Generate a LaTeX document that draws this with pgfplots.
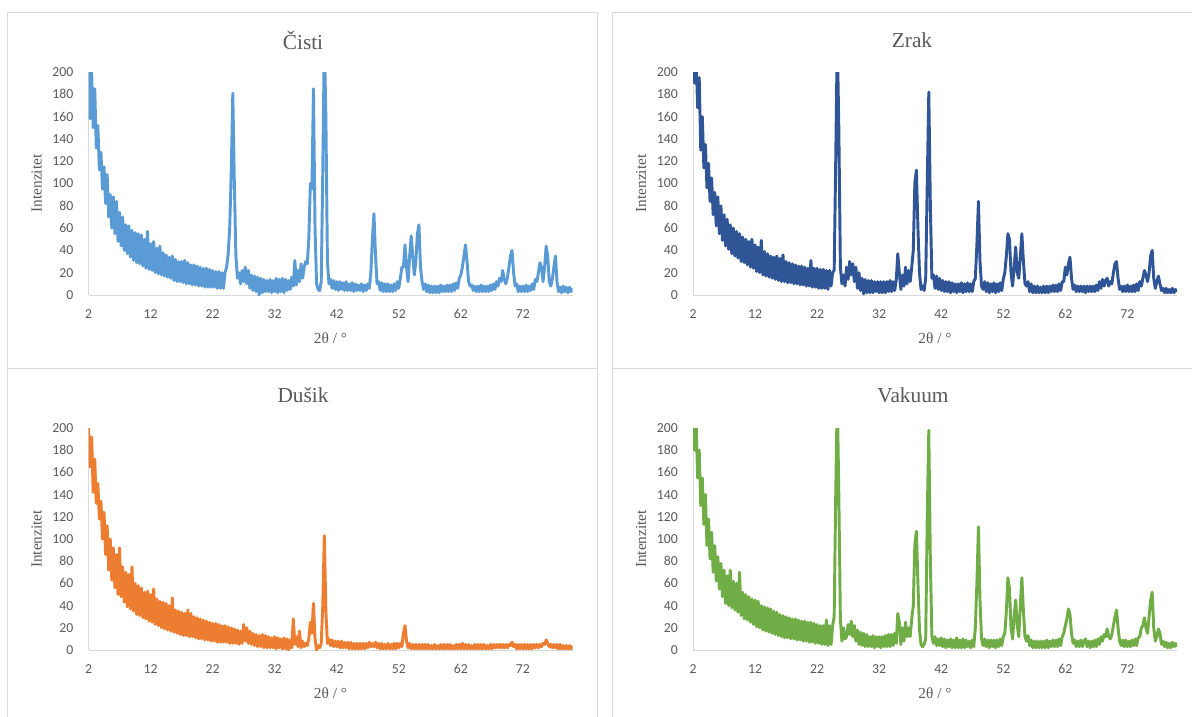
\documentclass[border=0pt]{standalone}
\usepackage{fontspec}
\setmainfont{Liberation Serif}
\newfontfamily\carlito{Carlito}
\usepackage{pgfplots}
\usepackage{pgfplotstable}
\pgfplotsset{compat=1.18}
\definecolor{cC}{HTML}{5B9BD5}
\definecolor{cZ}{HTML}{2F5597}
\definecolor{cD}{HTML}{ED7D31}
\definecolor{cV}{HTML}{70AD47}
\definecolor{txt}{HTML}{595959}
\definecolor{axl}{HTML}{D9D9D9}

\pgfplotstableread{
x c z d v
2.00 205 215 200 210
2.25 158 190 165 180
2.50 200 212 192 205
2.75 150 168 142 155
3.00 185 195 172 180
3.25 132 130 132 130
3.50 152 160 150 155
3.75 112 114 118 113
4.00 128 135 134 140
4.25 95 96 100 94
4.50 115 118 124 118
4.75 82 84 86 82
5.00 108 105 112 106
5.25 70 72 72 70
5.50 90 92 100 94
5.75 60 62 63 62
6.00 88 88 92 84
6.25 55 55 56 55
6.50 84 80 86 78
6.75 48 49 50 48
7.00 74 72 92 72
7.25 44 44 48 42
7.50 70 68 75 67
7.75 40 41 43 40
8.00 63 63 70 72
8.25 37 37 39 38
8.50 62 60 68 62
8.75 34 35 37 36
9.00 58 57 75 60
9.25 31 33 35 34
9.50 56 55 60 70
9.75 29 30 32 31
10.00 55 52 58 52
10.25 28 29 31 28
10.50 54 50 56 50
10.75 26 27 29 27
11.00 50 48 52 48
11.25 24 25 28 25
11.50 57 50 53 46
11.75 23 24 26 23
12.00 46 45 50 45
12.25 22 21 25 21
12.50 48 43 55 44
12.75 20 20 23 20
13.00 42 49 46 40
13.25 19 18 22 18
13.50 44 39 44 39
13.75 18 17 20 17
14.00 38 37 43 38
14.25 17 16 19 16
14.50 36 35 42 37
14.75 16 15 18 15
15.00 34 34 40 35
15.25 15 14 17 14
15.50 35 35 47 34
15.75 13 13 16 13
16.00 32 33 36 32
16.25 12 12 15 12
16.50 30 36 35 31
16.75 12 12 14 11
17.00 30 30 34 30
17.25 11 11 13 11
17.50 31 29 33 29
17.75 10 11 13 10
18.00 29 28 36 28
18.25 10 10 12 10
18.50 27 27 33 28
18.75 9 10 12 9
19.00 27 26 30 27
19.25 9 9 11 9
19.50 26 26 29 26
19.75 8 9 10 8
20.00 25 25 28 26
20.25 8 8 10 8
20.50 24 24 27 25
20.75 7 8 9 7
21.00 24 31 26 25
21.25 7 7 9 7
21.50 23 24 25 24
21.75 7 7 8 6
22.00 22 24 24 23
22.25 7 6 8 6
22.50 21 23 24 22
22.75 6 6 7 5
23.00 21 23 23 22
23.25 6 6 7 5
23.50 20 22 22 27
23.75 6 5 7 4
24.00 20 22 22 22
24.25 25 8 7 5
24.50 36 20 21 22
24.75 60 22 6 30
25.00 110 120 20 140
25.25 181 230 6 230
25.50 100 150 19 140
25.75 35 25 6 28
26.00 15 10 18 8
26.25 20 18 5 20
26.50 10 8 17 10
26.75 22 25 6 12
27.00 12 14 23 23
27.25 25 30 8 14
27.50 10 18 20 26
27.75 22 28 6 12
28.00 6 12 17 22
28.25 18 25 5 8
28.50 4 6 15 18
28.75 17 20 4 5
29.00 3 4 14 16
29.25 16 15 3 4
29.50 0 1 13 15
29.75 15 14 3 3
30.00 2 2 14 14
30.25 14 13 2 3
30.50 3 2 13 12
30.75 13 13 2 3
31.00 3 2 12 13
31.25 14 12 2 2
31.50 2 3 11 12
31.75 13 12 2 3
32.00 3 2 12 12
32.25 15 12 1 2
32.50 2 2 11 12
32.75 14 12 2 3
33.00 3 2 10 13
33.25 15 12 1 3
33.50 2 3 11 14
33.75 14 13 1 3
34.00 4 3 10 14
34.25 13 12 0 4
34.50 5 4 9 15
34.75 16 13 2 6
35.00 8 37 28 33
35.25 31 20 5 25
35.50 9 5 12 5
35.75 22 18 3 20
36.00 12 8 17 8
36.25 28 25 2 25
36.50 15 10 8 12
36.75 25 22 3 20
37.00 30 12 6 12
37.25 28 25 4 28
37.50 50 40 10 40
37.75 100 100 25 95
38.00 95 112 15 107
38.25 185 60 42 60
38.50 60 20 10 18
38.75 10 5 0 5
39.00 5 8 4 3
39.25 4 4 2 5
39.50 12 15 6 10
39.75 110 100 40 120
40.00 230 182 103 198
40.25 160 80 35 80
40.50 30 15 6 12
40.75 10 18 10 6
41.00 14 6 4 12
41.25 6 17 9 4
41.50 13 5 3 10
41.75 5 15 8 4
42.00 12 4 3 11
42.25 4 13 8 3
42.50 12 3 2 10
42.75 5 12 8 2
43.00 11 3 2 9
43.25 4 12 7 3
43.50 12 2 2 10
43.75 4 11 7 2
44.00 10 3 1 9
44.25 4 10 7 2
44.50 11 2 1 11
44.75 3 10 6 2
45.00 10 3 1 9
45.25 4 11 6 2
45.50 9 2 1 10
45.75 4 10 6 2
46.00 10 3 1 9
46.25 3 11 6 3
46.50 9 3 1 8
46.75 4 10 6 2
47.00 10 3 2 9
47.25 6 12 7 3
47.50 20 15 3 20
47.75 50 45 6 60
48.00 73 84 3 111
48.25 35 30 7 45
48.50 10 8 2 10
48.75 12 5 6 4
49.00 4 12 1 10
49.25 11 3 6 3
49.50 3 11 1 9
49.75 10 2 5 2
50.00 3 10 1 9
50.25 10 3 6 3
50.50 3 11 1 9
50.75 9 2 5 2
51.00 3 10 1 9
51.25 10 3 6 3
51.50 4 11 1 10
51.75 12 4 6 4
52.00 6 14 2 12
52.25 15 20 6 15
52.50 25 35 3 35
52.75 25 55 15 65
53.00 45 50 22 55
53.25 25 20 8 20
53.50 12 8 2 10
53.75 35 25 6 30
54.00 53 43 1 45
54.25 35 20 5 22
54.50 18 15 1 12
54.75 30 35 5 40
55.00 55 55 1 65
55.25 63 30 5 35
55.50 25 10 1 12
55.75 12 8 5 8
56.00 5 12 1 13
56.25 10 3 5 4
56.50 3 10 1 9
56.75 9 2 5 2
57.00 2 8 1 8
57.25 8 2 4 2
57.50 2 8 1 8
57.75 8 2 5 2
58.00 2 7 1 8
58.25 8 2 4 2
58.50 2 8 1 8
58.75 9 2 5 2
59.00 3 8 1 9
59.25 8 2 5 2
59.50 3 8 1 8
59.75 9 3 5 3
60.00 3 9 1 9
60.25 9 3 5 3
60.50 3 9 1 9
60.75 10 3 4 3
61.00 4 10 1 10
61.25 11 4 5 4
61.50 6 12 1 12
61.75 15 12 5 15
62.00 18 25 1 22
62.25 25 18 6 28
62.50 35 28 1 37
62.75 45 34 5 32
63.00 30 15 1 15
63.25 12 5 5 6
63.50 8 9 1 9
63.75 9 3 4 3
64.00 4 8 1 8
64.25 8 3 5 3
64.50 3 8 1 9
64.75 8 3 5 3
65.00 3 8 1 8
65.25 9 2 5 10
65.50 3 8 1 3
65.75 8 3 5 8
66.00 3 8 1 2
66.25 8 3 4 8
66.50 3 8 1 3
66.75 9 3 5 9
67.00 4 9 1 3
67.25 10 4 5 10
67.50 5 12 2 5
67.75 12 6 5 12
68.00 8 14 2 8
68.25 15 8 5 14
68.50 12 13 2 12
68.75 22 15 5 19
69.00 14 8 2 12
69.25 10 12 5 10
69.50 15 10 2 14
69.75 25 20 5 22
70.00 35 28 4 30
70.25 40 30 7 36
70.50 20 15 3 20
70.75 8 5 5 8
71.00 10 8 1 4
71.25 3 3 5 9
71.50 8 8 1 3
71.75 3 3 5 9
72.00 8 9 1 3
72.25 3 3 5 8
72.50 9 8 1 3
72.75 3 3 5 9
73.00 8 9 1 4
73.25 4 3 5 10
73.50 10 10 1 4
73.75 5 4 5 11
74.00 14 12 2 12
74.25 12 8 5 20
74.50 20 15 2 22
74.75 29 22 5 29
75.00 25 18 3 20
75.25 12 12 6 15
75.50 25 20 5 30
75.75 44 35 9 45
76.00 35 40 6 52
76.25 12 15 3 20
76.50 8 6 5 8
76.75 15 12 2 12
77.00 25 17 5 19
77.25 35 10 2 15
77.50 12 4 5 5
77.75 3 6 1 8
78.00 7 2 5 3
78.25 2 6 1 7
78.50 8 2 4 2
78.75 3 5 1 6
79.00 7 2 4 2
79.25 2 6 1 7
79.50 7 2 4 3
79.75 3 5 1 6
80.00 6 3 4 3
}\xrd

\pgfplotsset{
  xrd/.style={
    scale only axis, width=363pt, anchor=south west,
    xmin=2, xmax=80, ymin=0, ymax=200,
    xtick={2,12,22,32,42,52,62,72}, ytick={0,20,...,200},
    axis x line=bottom, axis y line=left,
    axis line style={-, draw=axl, line width=0.75pt},
    major tick length=0pt,
    tick label style={font=\carlito\fontsize{10.3}{12}\selectfont, text=txt},
    /pgf/number format/assume math mode=true,
    xticklabel style={anchor=center, yshift=-14.5pt},
    yticklabel style={anchor=east, xshift=-7.9pt},
    xlabel={2θ / °}, ylabel={Intenzitet},
    xlabel style={at={(axis description cs:0.5,-0.193)}, anchor=center,
      font=\fontsize{11.5}{13}\selectfont, text=txt},
    ylabel style={at={(axis description cs:-0.1074,0.5)}, anchor=center,
      font=\fontsize{11.5}{13}\selectfont, text=txt},
    clip=true,
  },
  xrdline/.style={line width=2.2pt, line join=round, no markers},
}

\begin{document}
\begin{tikzpicture}
\useasboundingbox (0,0) rectangle (894pt,-537.75pt);
\begin{scope}
\clip (0,0) rectangle (894pt,-537.75pt);
\draw[axl, line width=0.75pt] (5.5pt,-9.5pt) rectangle (448.3pt,-276.2pt);
\draw[axl, line width=0.75pt] (459.2pt,-9.5pt) rectangle (905pt,-276.2pt);
\draw[axl, line width=0.75pt] (5.5pt,-276.2pt) rectangle (448.3pt,-550pt);
\draw[axl, line width=0.75pt] (459.2pt,-276.2pt) rectangle (905pt,-550pt);
\end{scope}

\begin{axis}[xrd, height=167.25pt, at={(66.4pt,-221.25pt)}]
\addplot[cC, xrdline] table[x=x, y=c] {\xrd};
\end{axis}
\begin{axis}[xrd, height=167.25pt, at={(519.75pt,-221.25pt)}]
\addplot[cZ, xrdline] table[x=x, y=z] {\xrd};
\end{axis}
\begin{axis}[xrd, height=166.5pt, at={(66.4pt,-487.5pt)}]
\addplot[cD, xrdline] table[x=x, y=d] {\xrd};
\end{axis}
\begin{axis}[xrd, height=166.5pt, at={(519.75pt,-487.5pt)}]
\addplot[cV, xrdline] table[x=x, y=v] {\xrd};
\end{axis}

\node[font=\fontsize{16}{19}\selectfont, text=txt] at (227.25pt,-30pt) {Čisti};
\node[font=\fontsize{16}{19}\selectfont, text=txt] at (684pt,-30pt) {Zrak};
\node[font=\fontsize{16}{19}\selectfont, text=txt] at (227.25pt,-296.25pt) {Dušik};
\node[font=\fontsize{16}{19}\selectfont, text=txt] at (684.75pt,-296.25pt) {Vakuum};
\end{tikzpicture}
\end{document}
